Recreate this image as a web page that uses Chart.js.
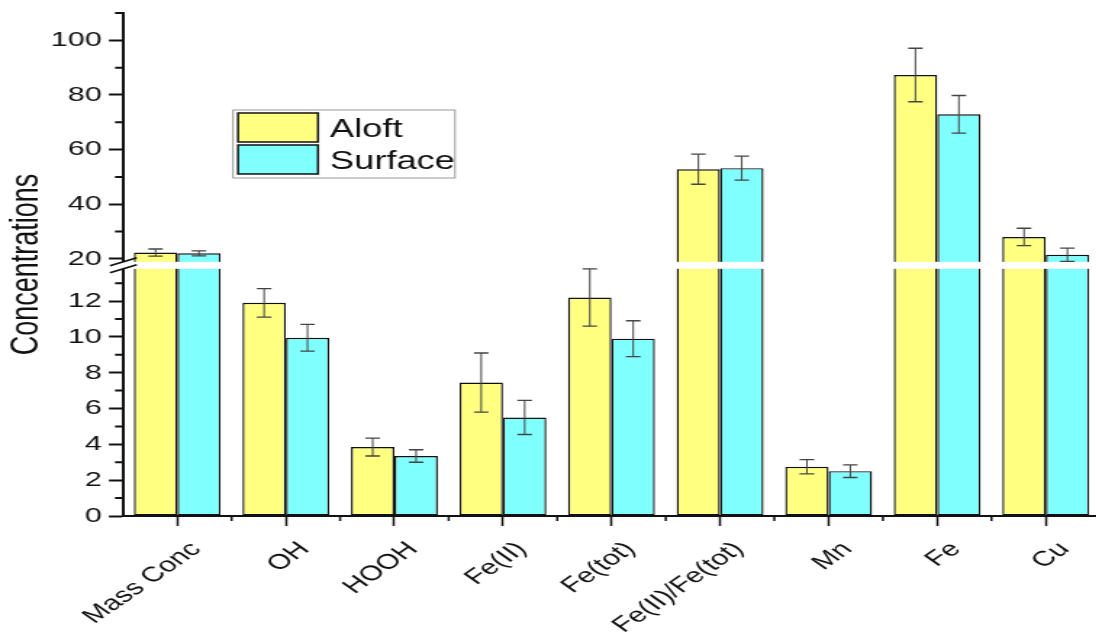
<!DOCTYPE html>
<html>
<head>
<meta charset="utf-8">
<script src="https://cdn.jsdelivr.net/npm/chart.js@4"></script>
<style>
  html, body { margin: 0; padding: 0; background: #fff; overflow: hidden; }
  #wrap { width: 1096px; height: 634px; overflow: hidden; }
  /* the figure is drawn narrow and widened, so text comes out wide */
  #chart { transform: scaleX(1.45); transform-origin: 0 0; }
</style>
</head>
<body>
<div id="wrap"><canvas id="chart" width="760" height="634"></canvas></div>
<script>
const SX = 1.45;

const CATEGORIES = ['Mass Conc', 'OH', 'HOOH', 'Fe(II)', 'Fe(tot)', 'Fe(II)/Fe(tot)', 'Mn', 'Fe', 'Cu'];
const ALOFT = [22.3, 11.9, 3.85, 7.45, 12.2, 52.8, 2.75, 87.3, 28.0];
const ALOFT_ERR = [1.3, 0.8, 0.5, 1.65, 1.6, 5.5, 0.4, 9.8, 3.2];
const SURFACE = [22.0, 9.95, 3.35, 5.5, 9.9, 53.2, 2.5, 72.9, 21.5];
const SURFACE_ERR = [0.9, 0.75, 0.35, 0.95, 1.0, 4.4, 0.35, 6.9, 2.4];
const Y_MAJOR = [0, 2, 4, 6, 8, 10, 12, 20, 40, 60, 80, 100];
const Y_MINOR = [1, 3, 5, 7, 9, 11, 13, 30, 50, 70, 90, 110];

// broken axis: 0..13.8 below the break, 18.9..110 above it (compressed)
const LOW_MAX = 13.8, UP_MIN = 18.9, UP_MAX = 110;
const GAP = 0.39, K = 0.1525;
function toDisplay(v) {
  if (v <= LOW_MAX) return v;
  if (v < UP_MIN) return LOW_MAX;
  return LOW_MAX + GAP + (v - UP_MIN) * K;
}

const FONT = 'Liberation Sans, Arial, sans-serif';

const axisExtras = {
  id: 'axisExtras',
  afterDatasetsDraw(chart) {
    const {ctx, chartArea: a, scales: {y}} = chart;
    // white band through the bars at the break
    const yLow = y.getPixelForValue(LOW_MAX);
    const yUp = y.getPixelForValue(LOW_MAX + GAP);
    ctx.save();
    ctx.fillStyle = '#fff';
    ctx.fillRect(a.left - 8, yUp, a.right - a.left + 10, yLow - yUp);
    // error bars
    ctx.strokeStyle = '#444';
    chart.data.datasets.forEach((ds, i) => {
      chart.getDatasetMeta(i).data.forEach((bar, j) => {
        const v = ds.values[j], e = ds.errors[j];
        const t = y.getPixelForValue(toDisplay(v + e));
        const b = y.getPixelForValue(toDisplay(v - e));
        ctx.lineWidth = 1;
        ctx.beginPath();
        ctx.moveTo(bar.x, t); ctx.lineTo(bar.x, b);
        ctx.stroke();
        ctx.lineWidth = 1.3;
        ctx.beginPath();
        ctx.moveTo(bar.x - 5, t); ctx.lineTo(bar.x + 5, t);
        ctx.moveTo(bar.x - 5, b); ctx.lineTo(bar.x + 5, b);
        ctx.stroke();
      });
    });
    ctx.restore();
  },
  afterDraw(chart) {
    const {ctx, chartArea: a, scales: {x, y}} = chart;
    ctx.save();
    ctx.strokeStyle = '#111';
    // minor ticks
    ctx.lineWidth = 2;
    ctx.beginPath();
    Y_MINOR.forEach(v => {
      const py = y.getPixelForValue(toDisplay(v));
      ctx.moveTo(a.left - 5.5, py); ctx.lineTo(a.left, py);
    });
    ctx.stroke();
    const half = (x.getPixelForValue(1) - x.getPixelForValue(0)) / 2;
    ctx.lineWidth = 1.5;
    ctx.beginPath();
    for (let i = 0; i < CATEGORIES.length; i++) {
      const px = x.getPixelForValue(i) + half;
      ctx.moveTo(px, a.bottom); ctx.lineTo(px, a.bottom + 5);
    }
    ctx.stroke();
    // break marks
    const yLow = y.getPixelForValue(LOW_MAX);
    const yUp = y.getPixelForValue(LOW_MAX + GAP);
    ctx.lineWidth = 1.6;
    ctx.beginPath();
    ctx.moveTo(a.left - 9, yUp + 4); ctx.lineTo(a.left + 9.5, yUp - 4);
    ctx.moveTo(a.left - 9, yLow + 4); ctx.lineTo(a.left + 9.5, yLow - 4);
    ctx.stroke();

    // legend
    ctx.strokeStyle = '#999';
    ctx.lineWidth = 1;
    ctx.strokeRect(233 / SX, 110, 222 / SX, 68);
    const rows = [113, 145];
    ctx.font = '25px ' + FONT;
    ctx.textBaseline = 'alphabetic';
    chart.data.datasets.forEach((ds, i) => {
      ctx.fillStyle = ds.backgroundColor;
      ctx.fillRect(238 / SX, rows[i], 80 / SX, 29);
      ctx.strokeStyle = '#111';
      ctx.lineWidth = 1.5;
      ctx.strokeRect(238 / SX, rows[i], 80 / SX, 29);
      ctx.fillStyle = '#111';
      ctx.fillText(ds.label, 330 / SX, rows[i] + 24);
    });
    ctx.restore();
  }
};

new Chart(document.getElementById('chart'), {
  type: 'bar',
  data: {
    labels: CATEGORIES,
    datasets: [
      { label: 'Aloft', values: ALOFT, errors: ALOFT_ERR, data: ALOFT.map(toDisplay),
        backgroundColor: '#ffff80', borderColor: '#111', borderWidth: 1.4 },
      { label: 'Surface', values: SURFACE, errors: SURFACE_ERR, data: SURFACE.map(toDisplay),
        backgroundColor: '#80ffff', borderColor: '#111', borderWidth: 1.4 }
    ]
  },
  options: {
    responsive: false,
    animation: false,
    devicePixelRatio: 1,
    layout: { padding: { top: 13, left: 0, right: 760 - 1100 / SX, bottom: 0 } },
    datasets: { bar: { categoryPercentage: 0.8, barPercentage: 1.0, borderSkipped: false } },
    plugins: { legend: { display: false }, tooltip: { enabled: false } },
    scales: {
      x: {
        grid: { offset: false, drawOnChartArea: false, tickLength: 10, tickColor: '#111', tickWidth: 1.5 },
        border: { color: '#111', width: 2 },
        ticks: { autoSkip: false, minRotation: 45, maxRotation: 45, padding: 11, labelOffset: 13,
                 color: '#111', font: { family: FONT, size: 21 } },
        afterFit: s => {
          s.height = 634 - 516;
          s.paddingLeft = 0; s.paddingRight = 0;
        }
      },
      y: {
        min: 0,
        max: toDisplay(UP_MAX),
        grid: { drawOnChartArea: false, tickLength: 9.7, tickColor: '#111', tickWidth: 2 },
        border: { color: '#111', width: 2 },
        ticks: { padding: 5, color: '#111', font: { family: FONT, size: 21 },
                 callback: (val, i) => String(Y_MAJOR[i]) },
        afterBuildTicks: s => { s.ticks = Y_MAJOR.map(v => ({ value: toDisplay(v) })); },
        title: { display: true, text: 'Concentrations', color: '#111',
                 font: { family: FONT, size: 27 }, padding: 2 },
        afterFit: s => {
          s.width = 123 / SX;
          s.paddingTop = 0; s.paddingBottom = 0;
        }
      }
    }
  },
  plugins: [axisExtras]
});
</script>
</body>
</html>
